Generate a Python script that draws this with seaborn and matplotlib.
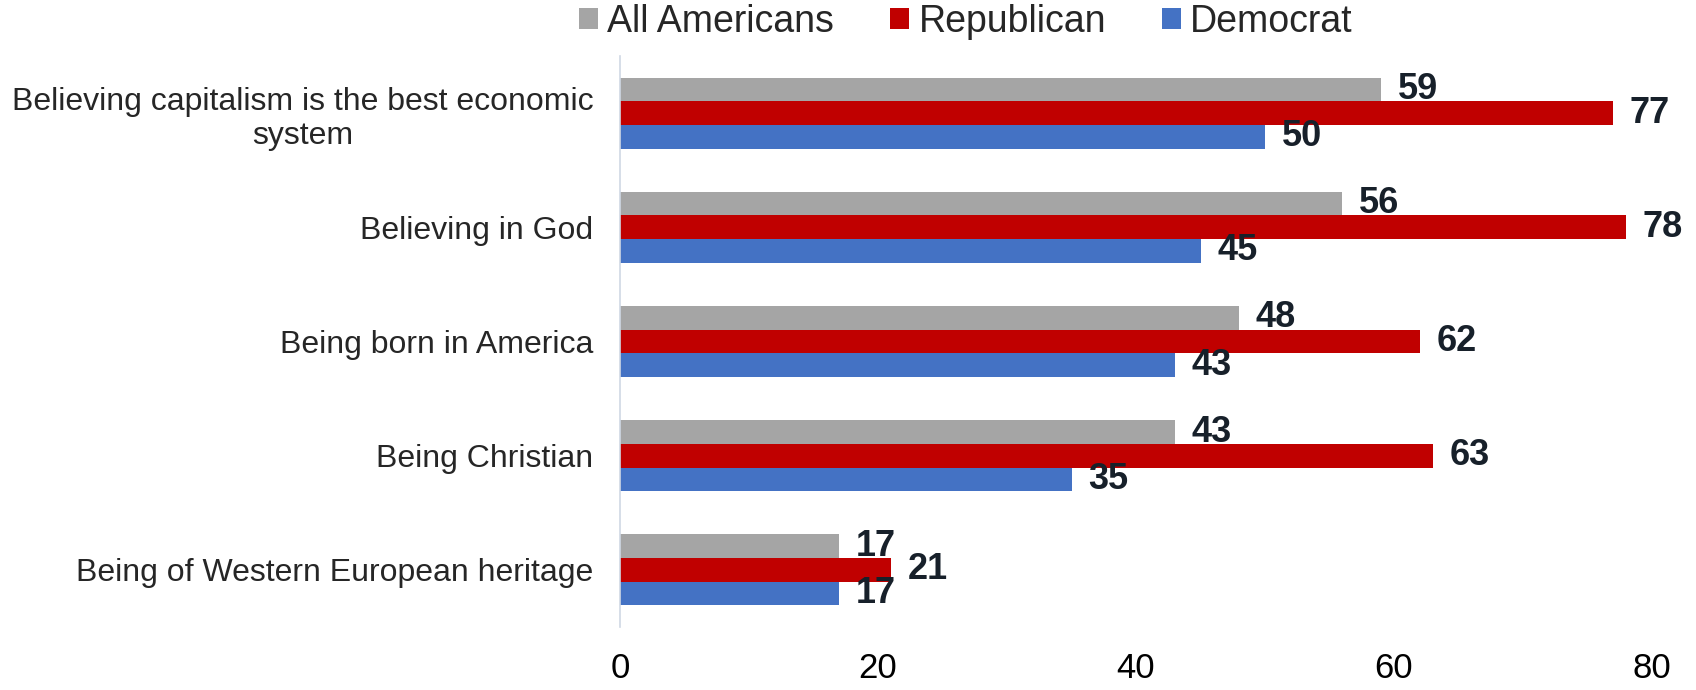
import pandas as pd
import matplotlib.pyplot as plt
import seaborn as sns

categories = ['Believing capitalism is the best economic\nsystem',
              'Believing in God',
              'Being born in America',
              'Being Christian',
              'Being of Western European heritage']
all_americans = [59, 56, 48, 43, 17]
republican = [77, 78, 62, 63, 21]
democrat = [50, 45, 43, 35, 17]
groups = ['All Americans', 'Republican', 'Democrat']
colors = ['#A5A5A5', '#C00000', '#4472C4']

df = pd.DataFrame({
    'category': categories * 3,
    'group': [g for g in groups for _ in categories],
    'value': all_americans + republican + democrat,
})

sns.set_style('white')
plt.rcParams['font.family'] = ['Liberation Sans', 'DejaVu Sans']

fig = plt.figure(figsize=(16.96, 6.9), dpi=100)
ax = fig.add_axes([620 / 1696, 1 - 627 / 690, 1032 / 1696, 571 / 690])

sns.barplot(data=df, y='category', x='value', hue='group', hue_order=groups,
            palette=colors, saturation=1, orient='h', width=0.62, gap=0,
            linewidth=0, ax=ax, legend=True)

# value labels next to every bar
for cont in ax.containers:
    ax.bar_label(cont, padding=12, fontsize=26, fontweight='bold', color='#17202A')

ax.set_xlim(0, 80)
ax.set_ylim(4.5, -0.5)
ax.set_xticks([0, 20, 40, 60, 80])
ax.tick_params(axis='x', labelsize=25, length=0, pad=18, labelcolor='black')
ax.tick_params(axis='y', labelsize=23, length=0, pad=19, labelcolor='#262626')
for lab in ax.get_yticklabels():
    lab.set_multialignment('center')
ax.set_xlabel('')
ax.set_ylabel('')
for s in ['top', 'right', 'bottom']:
    ax.spines[s].set_visible(False)
ax.spines['left'].set_color('#D0D8E4')
ax.spines['left'].set_linewidth(1.2)

handles, labels = ax.get_legend_handles_labels()
ax.legend_.remove()
fig.legend(handles, labels, loc='center', bbox_to_anchor=(966 / 1696, 1 - 22 / 690),
           ncol=3, frameon=False, fontsize=27, handlelength=0.5, handleheight=0.5,
           handletextpad=0.25, columnspacing=1.5, borderpad=0)

fig.savefig('out.png', dpi=100)
